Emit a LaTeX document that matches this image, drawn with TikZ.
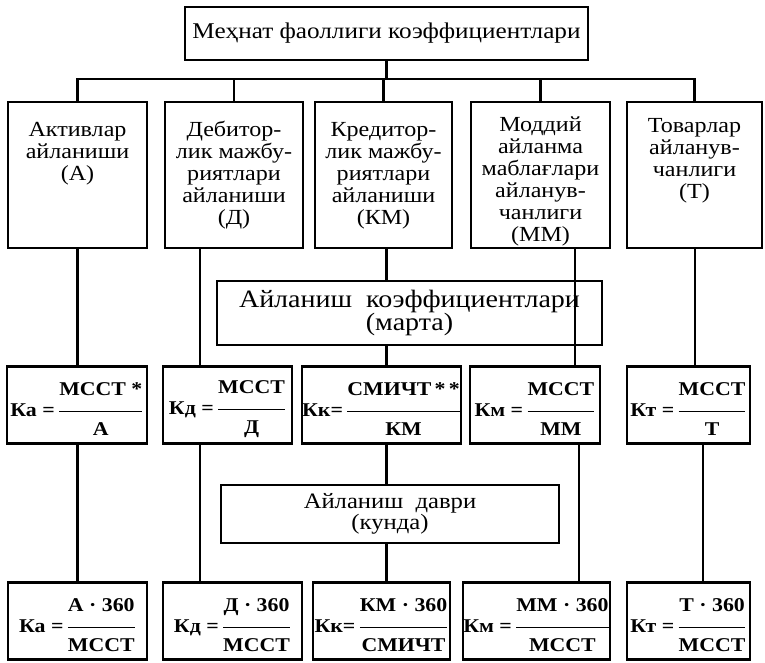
\documentclass[tikz,border=0pt]{standalone}
\usepackage{fontspec}
\setmainfont[FakeStretch=1.12]{Liberation Serif}
\usepackage{amsmath}

\newcommand\toptext[3][34pt]{\parbox[t][146pt][t]{#2}{\centering\rule{0pt}{#1}#3}}
\newcommand\koef[3]{\textbf{#1}\,$\dfrac{\rule[-13pt]{0pt}{34pt}\mbox{\bfseries #2}}{\rule{0pt}{22pt}\mbox{\bfseries #3}}$}

\begin{document}
\begin{tikzpicture}[x=1pt, y=-1pt, line width=2.4pt,
    box/.style={draw, inner sep=0pt, minimum width=#1, minimum height=146,
                font=\fontsize{21.5}{22}\selectfont},
    frm/.style={draw, inner sep=0pt, minimum width=#1, minimum height=77,
                font=\fontsize{19.5}{22}\selectfont},
    hdr/.style={draw, inner sep=0pt, align=center, font=\fontsize{25}{22}\selectfont}
                    ]
\useasboundingbox (0,0) rectangle (765,662);

\node[hdr, minimum width=403, minimum height=53, font=\fontsize{22.5}{22}\selectfont] (top) at (386.5,33.5) {Меҳнат фаоллиги коэффициентлари};

% kinds of turnover
\node[box=139] (act) at (77.5,175) {\toptext{130pt}{Активлар\\айланиши\\(А)}};
\node[box=138] (deb) at (234,175) {\toptext{130pt}{Дебитор-\\лик мажбу-\\риятлари\\айланиши\\(Д)}};
\node[box=137] (kred) at (383.5,175) {\toptext{130pt}{Кредитор-\\лик мажбу-\\риятлари\\айланиши\\(КМ)}};
\node[box=139] (mod) at (540.5,175) {\toptext[29pt]{134pt}{Моддий\\айланма\\маблағлари\\айланув-\\чанлиги\\(ММ)}};
\node[box=135] (tov) at (694.5,175) {\toptext[30pt]{128pt}{Товарлар\\айланув-\\чанлиги\\(Т)}};

\node[hdr, minimum width=385, minimum height=64] (marta) at (409.5,313) {Айланиш\ \ коэффициентлари\\(марта)};

% coefficients
\node[frm=140] (ka1) at (77,405) {\koef{Ка =}{МССТ *}{А}};
\node[frm=129] (kd1) at (227.5,405) {\koef{Кд =}{МССТ}{Д}};
\node[frm=157] (kk1) at (381.5,405) {\koef{Кк=}{СМИЧТ\,*\,*}{КМ}};
\node[frm=130] (km1) at (535,405) {\koef{Км =}{МССТ}{ММ}};
\node[frm=123] (kt1) at (688.5,405) {\koef{Кт =}{МССТ}{Т}};

\node[hdr, minimum width=338, minimum height=58, font=\fontsize{22}{21}\selectfont] (davr) at (390,514) {Айланиш\ \ даври\\(кунда)};

% periods in days
\node[frm=139] (ka2) at (77.5,621) {\koef{Ка =}{А · 360}{МССТ}};
\node[frm=139] (kd2) at (232.5,621) {\koef{Кд =}{Д · 360}{МССТ}};
\node[frm=137] (kk2) at (381.5,621) {\koef{Кк=}{КМ · 360}{СМИЧТ}};
\node[frm=147] (km2) at (536.5,621) {\koef{Км =}{ММ · 360}{МССТ}};
\node[frm=123] (kt2) at (688.5,621) {\koef{Кт =}{Т · 360}{МССТ}};

% connectors
\draw (top.south) -- (top.south |- 0,79) coordinate (bus);
\draw (act.north) -- (act.north |- bus) -- (tov.north |- bus) -- (tov.north);
\foreach \p in {deb,kred,mod}
    \draw (\p.north) -- (\p.north |- bus);

\draw (act.south) -- (act.south |- ka1.north);
\draw (act.south |- ka1.south) -- (act.south |- ka2.north);
\draw (deb.south -| 200,0) -- (kd1.north -| 200,0);
\draw (kd1.south -| 200,0) -- (kd2.north -| 200,0);
\draw (mod.south -| 575,0) -- (km1.north -| 575,0);
\draw (km1.south -| 579,0) -- (km2.north -| 579,0);
\draw (tov.south -| 695,0) -- (kt1.north -| 695,0);
\draw (kt1.south -| 703,0) -- (kt2.north -| 703,0);

\foreach \p/\q in {kred/marta, marta/kk1, kk1/davr, davr/kk2}
    \draw (\p.south -| top.south) -- (\q.north -| top.south);

\end{tikzpicture}
\end{document}
